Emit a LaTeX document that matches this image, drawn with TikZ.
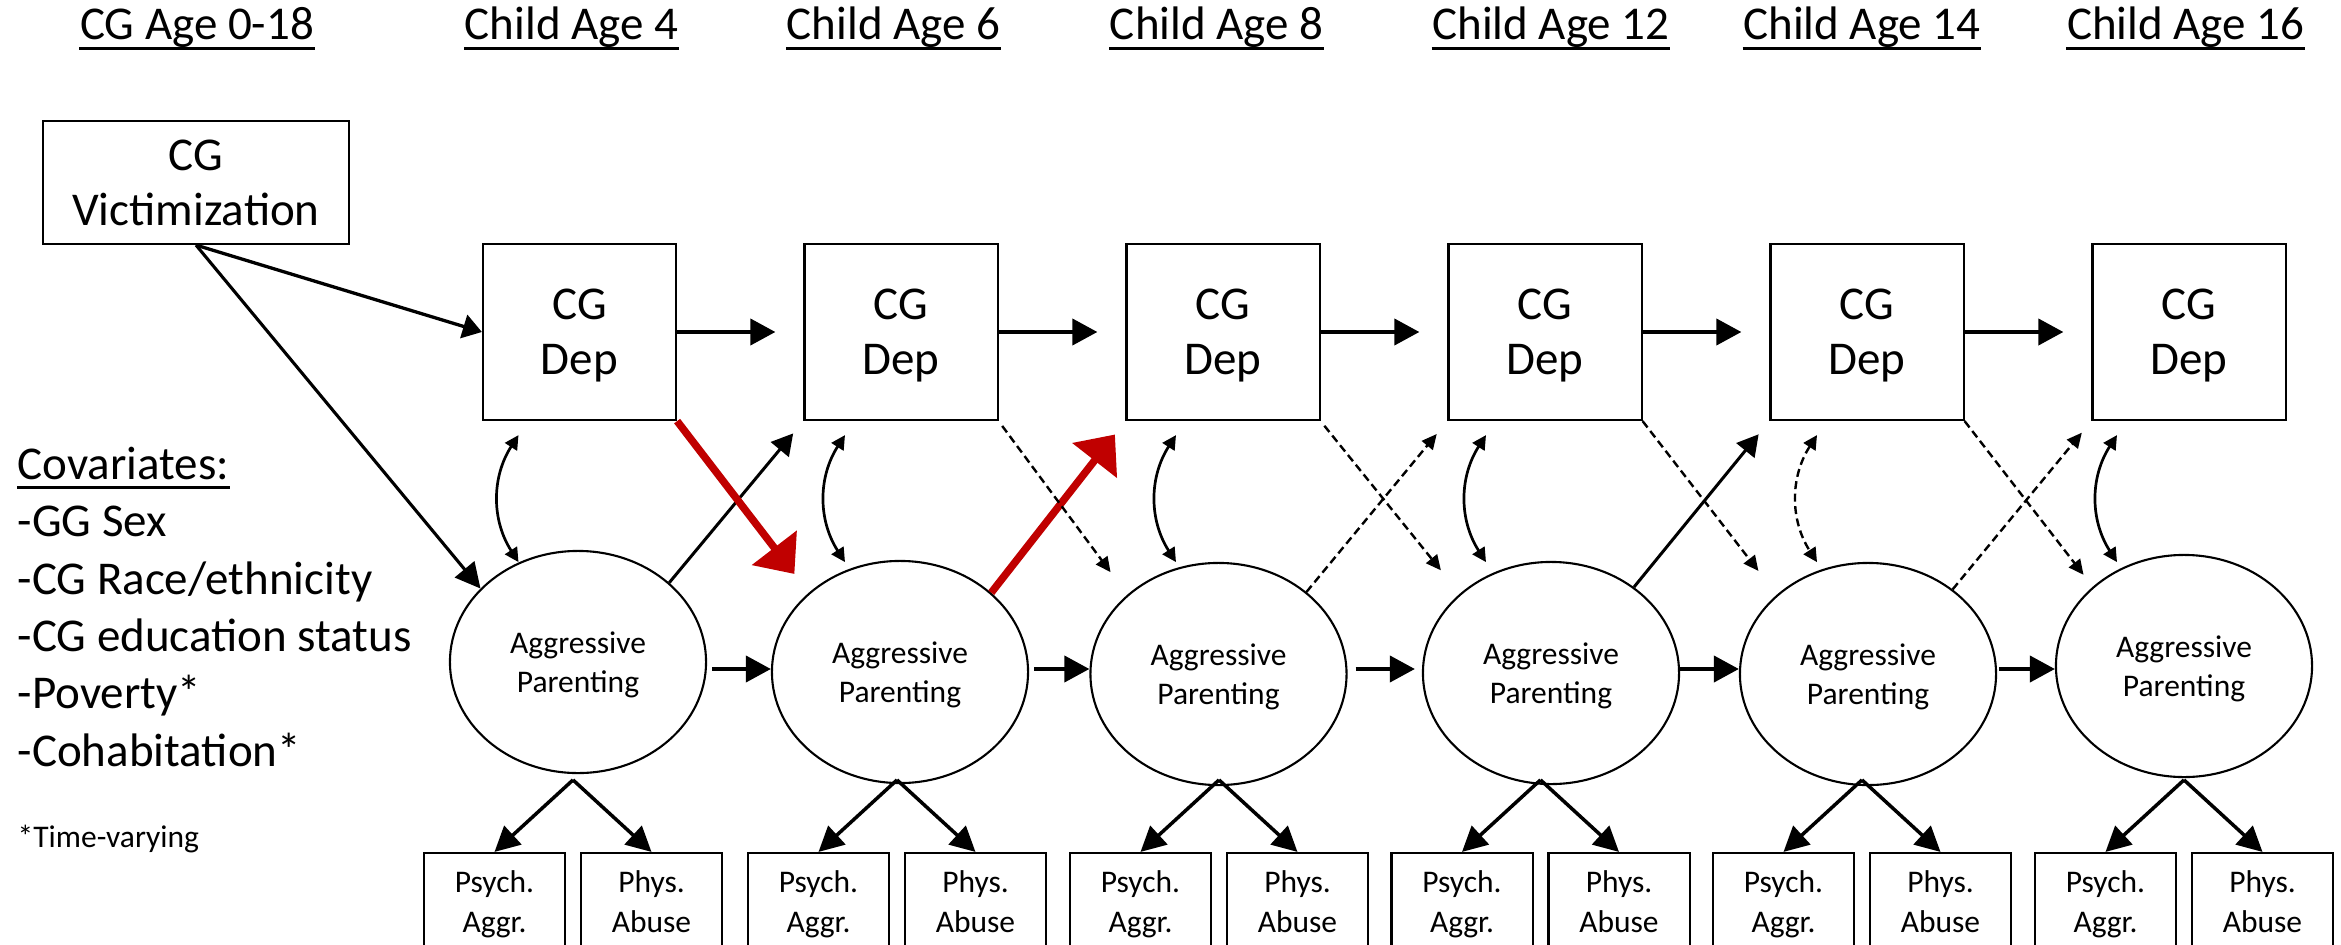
\documentclass[tikz,border=0pt]{standalone}
\usepackage{fontspec}
\setmainfont{Carlito}
\usetikzlibrary{arrows.meta,shapes.geometric,calc}
\definecolor{dred}{RGB}{192,0,0}
\begin{document}
\begin{tikzpicture}[x=0.01cm,y=-0.01cm,
  bigf/.style={font=\fontsize{13.37pt}{15.65pt}\selectfont},
  smallf/.style={font=\fontsize{8.96pt}{11.1pt}\selectfont},
  indf/.style={font=\fontsize{8.96pt}{11.3pt}\selectfont},
  box/.style={draw, line width=0.021cm, inner sep=0pt, align=center},
  dep/.style={box, bigf, minimum width=1.93cm, minimum height=1.76cm, text depth=0pt},
  vic/.style={box, bigf, minimum width=3.05cm, minimum height=1.23cm},
  ell/.style={ellipse, draw, line width=0.021cm, minimum width=2.56cm, minimum height=2.22cm, inner sep=0pt, align=center, smallf, text depth=0pt},
  ind/.style={box, indf, minimum width=1.41cm, minimum height=0.97cm, text depth=0pt},
  hdr/.style={bigf, inner sep=0pt, anchor=base},
  txt/.style={bigf, inner sep=0pt, anchor=base west},
  ul/.style={line width=0.027cm},
  harr/.style={line width=0.04cm, -{Triangle[length=0.25cm,width=0.26cm]}},
  larr/.style={line width=0.035cm, -{Triangle[length=0.25cm,width=0.25cm]}},
  varr/.style={line width=0.033cm, -{Triangle[length=0.19cm,width=0.24cm]}},
  marr/.style={line width=0.03cm, -{Triangle[length=0.21cm,width=0.23cm]}},
  darr/.style={line width=0.024cm, dash pattern=on 0.08cm off 0.045cm, -{Triangle[length=0.15cm,width=0.14cm]}},
  rarr/.style={draw=dred, line width=0.075cm, -{Triangle[length=0.33cm,width=0.55cm,fill=dred]}},
  cov/.style={line width=0.027cm, {Triangle[length=0.14cm,width=0.14cm]}-{Triangle[length=0.14cm,width=0.14cm]}},
  dcov/.style={cov, line width=0.024cm, dash pattern=on 0.08cm off 0.045cm}
]
\fill[white] (0,0) rectangle (2341,945);
\useasboundingbox (0,0) rectangle (2341,945);

% headers
\foreach \n/\x/\t in {h0/197/CG Age 0-18, h1/571.5/Child Age 4, h2/893.5/Child Age 6, h3/1216.7/Child Age 8, h4/1551/Child Age 12, h5/1862/Child Age 14, h6/2185.7/Child Age 16}{
  \node[hdr] (\n) at (\x,39.5) {\t};
  \draw[ul] ([yshift=-0.088cm]\n.base west) -- ([yshift=-0.088cm]\n.base east);
}

% covariates
\node[txt] (cov0) at (17,479.3) {Covariates:};
\draw[ul] ([yshift=-0.085cm]cov0.base west) -- ([yshift=-0.085cm]cov0.base east);
\node[txt] (cov1) at (17,536.7) {-GG Sex};
\node[txt] (cov2) at (17,594.0) {-CG Race/ethnicity};
\node[txt] (cov3) at (17,651.4) {-CG education status};
\node[txt] (cov4) at (17,708.7) {-Poverty*};
\node[txt] (cov5) at (17,766.1) {-Cohabitation*};
\node[smallf, inner sep=0pt, anchor=base west] (tv) at (17,847.3) {*Time-varying};

% victimization
\node[vic] (vic) at (196,182.5) {CG\\Victimization};

% CG Dep boxes
\foreach \i/\x in {1/579.5,2/901,3/1223,4/1545,5/1867,6/2189}
  \node[dep] (d\i) at (\x,332) {CG\\Dep};

% ellipses
\node[ell] (e1) at (578,662) {Aggressive\\Parenting};
\node[ell] (e2) at (900,672) {Aggressive\\Parenting};
\node[ell] (e3) at (1218.5,674) {Aggressive\\Parenting};
\node[ell] (e4) at (1551,673) {Aggressive\\Parenting};
\node[ell] (e5) at (1868,674) {Aggressive\\Parenting};
\node[ell] (e6) at (2184,666) {Aggressive\\Parenting};

% indicators and loadings
\foreach \i/\x in {1/494.5,2/818.5,3/1140.5,4/1462,5/1783.5,6/2105.5}{
  \node[ind] (p\i) at (\x,901.5) {Psych.\\Aggr.};
  \node[ind] (q\i) at (\x+157,901.5) {Phys.\\Abuse};
  \coordinate (s\i) at ($(p\i.north)!0.5!(q\i.north)+(0,-72)$);
  \draw[larr] (s\i) -- (p\i.north);
  \draw[larr] (s\i) -- (q\i.north);
}

% victimization paths
\draw[varr] (vic.south) -- (d1.west);
\draw[larr, line width=0.031cm] (vic.south) -- (e1.143);

% autoregressive paths
\foreach \i/\j in {1/2,2/3,3/4,4/5,5/6}
  \draw[harr, shorten >=0.28cm] (d\i.east) -- (d\j.west);
\draw[harr] ($(e1.east)+(5,7)$) -- ($(e2.west)+(0,-3)$);
\draw[harr] ($(e2.east)+(5,-3)$) -- ($(e3.west)+(0,-5)$);
\draw[harr] ($(e3.east)+(8,-5)$) -- ($(e4.west)+(-7,-4)$);
\draw[harr] ($(e4.east)+(0,-4)$) -- ($(e5.west)+(0,-5)$);
\draw[harr] ($(e5.east)+(2,-5)$) -- ($(e6.west)+(0,3)$);

% covariances
\foreach \i/\dx/\st in {1/-61/cov,2/-56/cov,3/-47/cov,4/-59/cov,5/-50/dcov,6/-72/cov}
  \draw[\st] ($(d\i.south)+(\dx,14)$) .. controls ($(d\i.south)+(\dx-27,56)$) and ($(d\i.south)+(\dx-27,99)$) .. ($(d\i.south)+(\dx,141)$);

% cross-lagged paths
\draw[marr, shorten >=0.16cm] (e1.41) -- (d2.south west);
\draw[rarr, shorten >=0.236cm] (d1.south east) -- (e2.139);
\draw[rarr, shorten >=0.17cm] (e2.41) -- (d3.south west);
\draw[darr, shorten <=0.06cm, shorten >=0.28cm] (d2.south east) -- (e3.139);
\draw[darr, shorten >=0.167cm] (e3.43) -- (d4.south west);
\draw[darr, shorten <=0.06cm, shorten >=0.30cm] (d3.south east) -- (e4.139);
\draw[marr, shorten >=0.17cm] (e4.46) -- (d5.south west);
\draw[darr, shorten >=0.30cm] (d4.south east) -- (e5.139);
\draw[darr, shorten >=0.15cm] (e5.45) -- (d6.south west);
\draw[darr, shorten >=0.15cm] (d5.south east) -- (e6.139);
\end{tikzpicture}
\end{document}
